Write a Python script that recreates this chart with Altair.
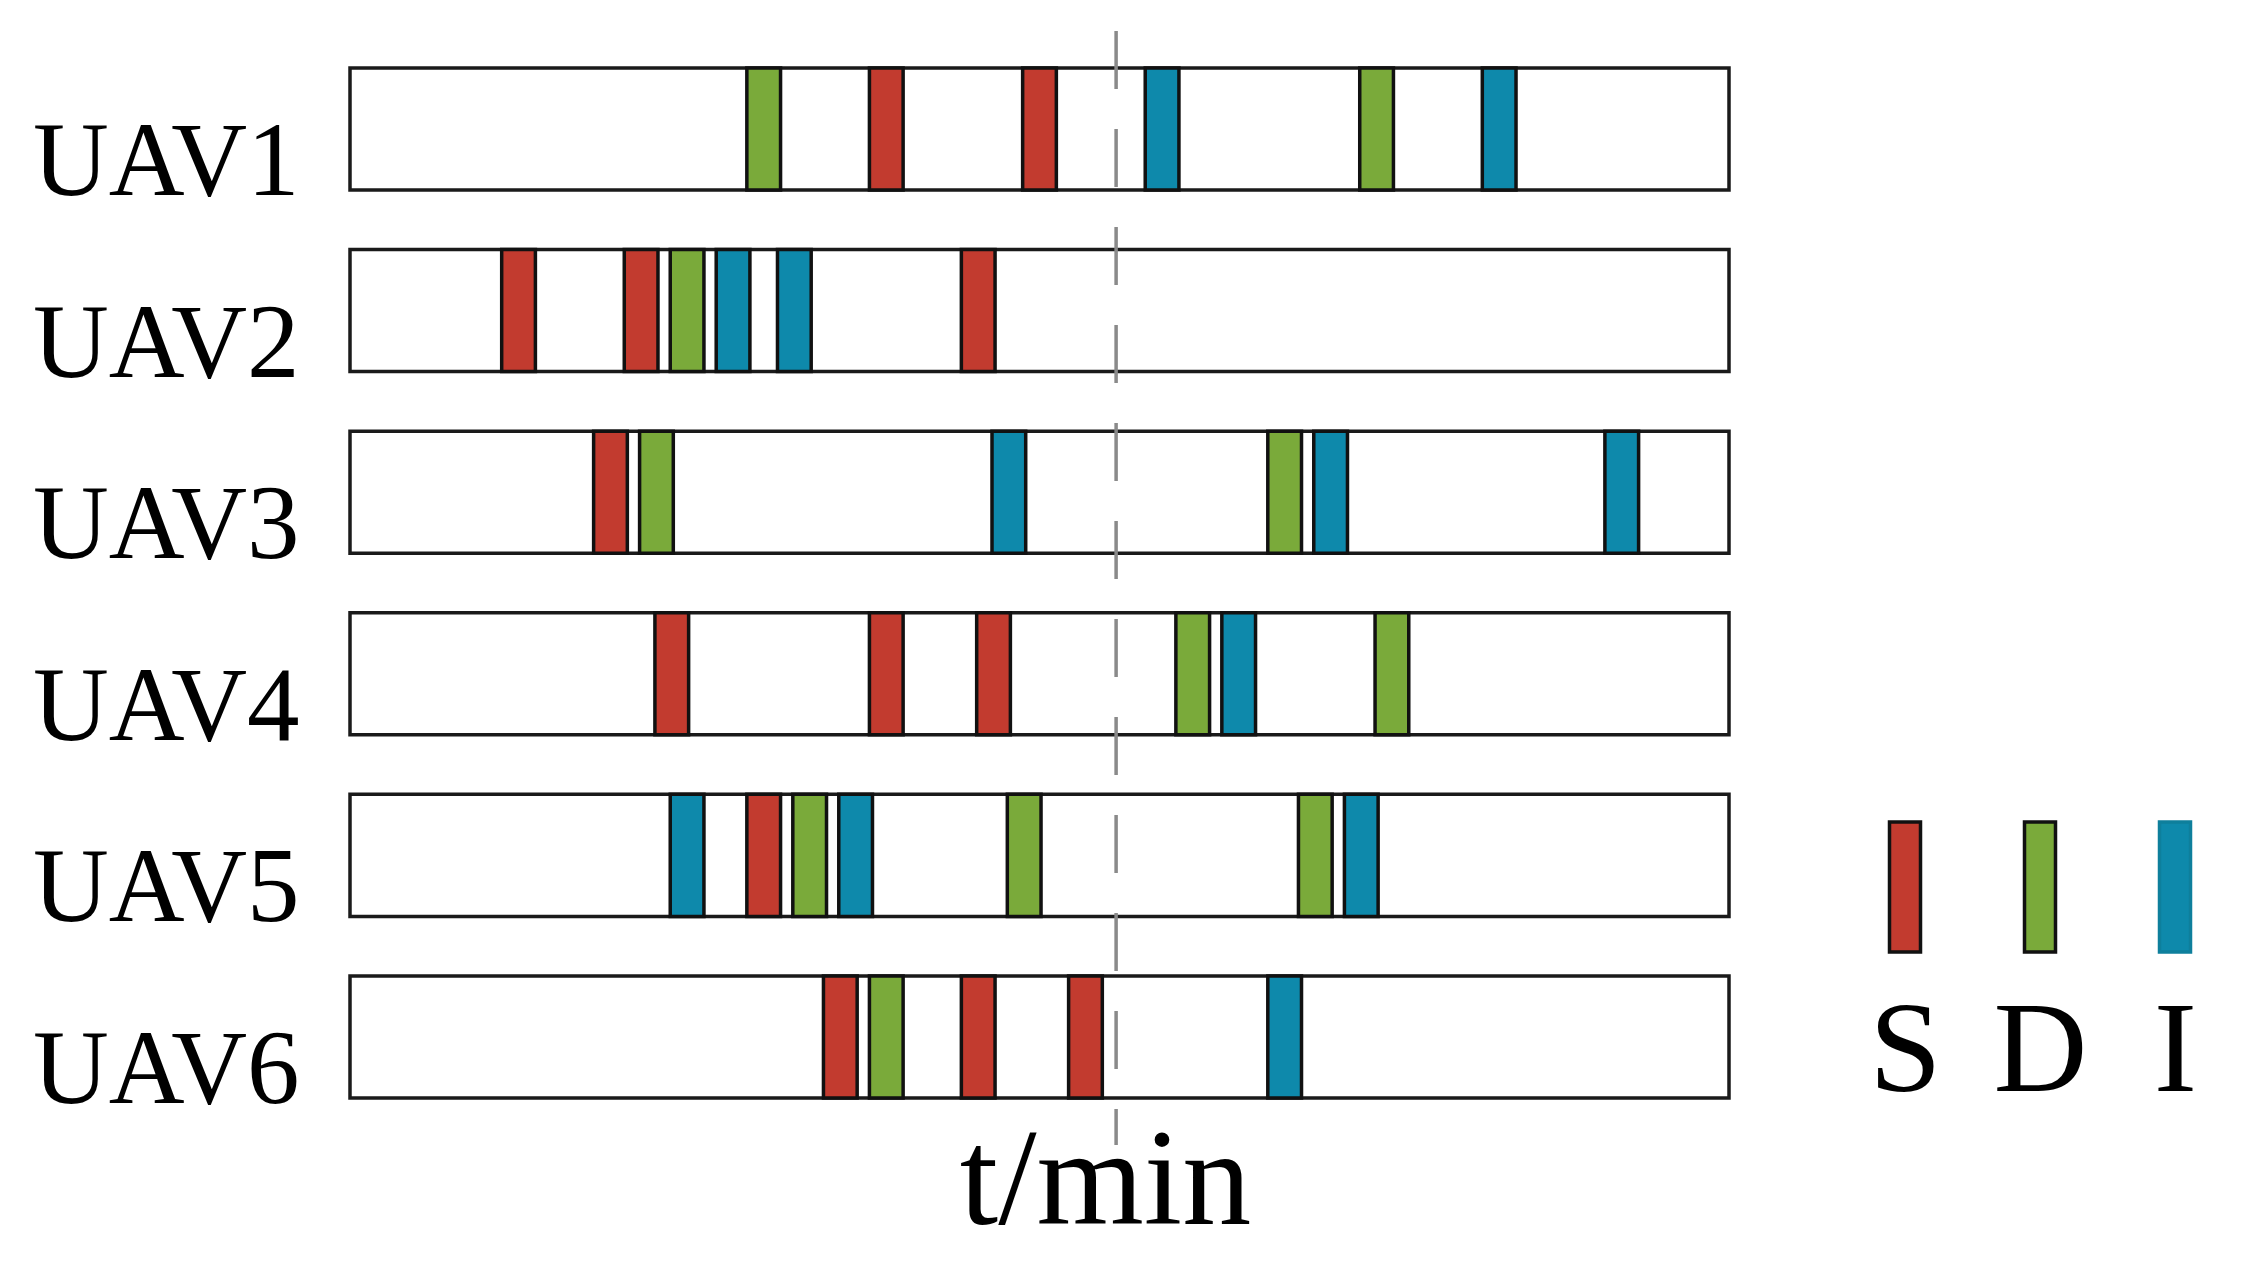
import altair as alt
import pandas as pd

# ---- data ----
uavs = ["UAV1", "UAV2", "UAV3", "UAV4", "UAV5", "UAV6"]
task_types = ["S", "D", "I"]
s_times = [[70, 90], [22, 38, 82], [34], [42, 70, 84], [54], [64, 82, 96]]
d_times = [[54, 134], [44], [40, 122], [110, 136], [60, 88, 126], [70]]
i_times = [[106, 150], [50, 58], [86, 128, 166], [116], [44, 66, 132], [122]]
t_max = 180
dash_time = 100
colors = ["#c23b2f", "#7aaa3a", "#0e89ab"]

rows = []
for u, ss, dd, ii in zip(uavs, s_times, d_times, i_times):
    for kind, vals in (("S", ss), ("D", dd), ("I", ii)):
        for t in vals:
            rows.append({"uav": u, "task": kind, "t": t})
tasks = pd.DataFrame(rows)
boxes = pd.DataFrame({"uav": uavs})
dash = pd.DataFrame({"t": [dash_time]})
legend_df = pd.DataFrame({"task": task_types})

FONT = "Liberation Serif"
HALF = 2.2  # half width of a task bar in minutes

yscale = alt.Scale(domain=uavs, paddingInner=0.328, paddingOuter=0.231, align=0.44)
xscale = alt.Scale(domain=[0, t_max], nice=False, zero=False)

box_layer = alt.Chart(boxes).mark_rect(
    fill="white", stroke="#1a1a1a", strokeWidth=3.5
).encode(
    y=alt.Y("uav:N", scale=yscale, sort=uavs,
            axis=alt.Axis(title=None, domain=False, ticks=False,
                          labelFont=FONT, labelFontSize=105, labelColor="black",
                          labelPadding=51, labelOffset=34, labelLimit=600))
)

rule_layer = alt.Chart(dash).mark_rule(
    color="#8a8a8a", strokeWidth=3.5, strokeDash=[58, 40]
).encode(
    x=alt.X("t:Q", scale=xscale,
            axis=alt.Axis(labels=False, ticks=False, domain=False, grid=False,
                          title="t/min", titleFont=FONT, titleFontSize=138,
                          titleFontWeight="normal", titleColor="black",
                          titleX=755, titleY=78, titleBaseline="alphabetic",
                          titleAlign="center", titleLimit=1000))
)

bar_layer = alt.Chart(tasks).transform_calculate(
    start=f"datum.t - {HALF}", end=f"datum.t + {HALF}"
).mark_rect(stroke="#111111", strokeWidth=3.5).encode(
    x=alt.X("start:Q", scale=xscale),
    x2="end:Q",
    y=alt.Y("uav:N", scale=yscale, sort=uavs),
    color=alt.Color("task:N", scale=alt.Scale(domain=task_types, range=colors), legend=None),
)

main = alt.layer(box_layer, rule_layer, bar_layer).properties(width=1379, height=1114)

spacer = alt.Chart(pd.DataFrame({"a": [0]})).mark_point(opacity=0, size=0).properties(
    width=270, height=791
)

legend = alt.Chart(legend_df).mark_bar(width=31, strokeWidth=3.5).encode(
    x=alt.X("task:N", sort=task_types,
            scale=alt.Scale(type="point", padding=0),
            axis=alt.Axis(title=None, domain=False, ticks=False, tickSize=0,
                          labelAngle=0, labelFont=FONT, labelFontSize=130,
                          labelColor="black", labelPadding=138,
                          labelBaseline="alphabetic")),
    color=alt.Color("task:N", scale=alt.Scale(domain=task_types, range=colors), legend=None),
    stroke=alt.condition(alt.datum.task == "I", alt.value("#0e7f9c"), alt.value("#111111")),
).properties(width=270, height=130)

legend_col = alt.vconcat(spacer, legend, spacing=0, bounds="flush")

chart = alt.hconcat(main, legend_col, spacing=176, bounds="flush").properties(
    padding={"left": 24, "top": 21, "right": 0, "bottom": 0}
).configure_view(stroke=None).configure_axis(grid=False)

chart.save("out.html", embed_options={"renderer": "svg", "actions": False})
